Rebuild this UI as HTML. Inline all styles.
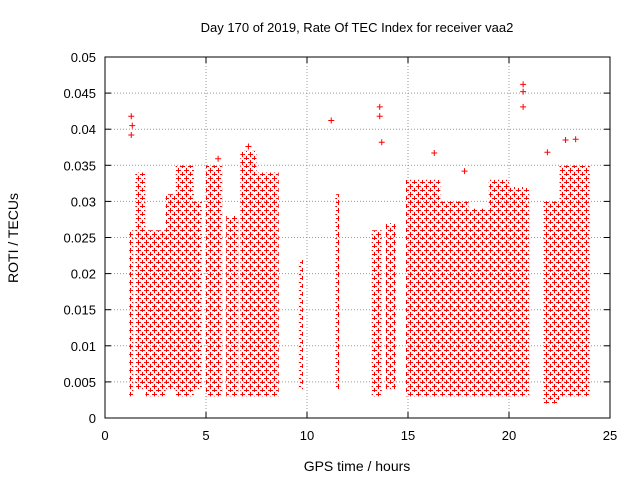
<!DOCTYPE html>
<html><head><meta charset="utf-8"><style>
body{margin:0;background:#fff;}
svg{display:block;font-family:"Liberation Sans",sans-serif;}
</style></head><body>
<svg id="chart" width="640" height="480">
<defs>
<pattern id="plus" width="8" height="8" patternUnits="userSpaceOnUse">
<path d="M0 2.5H5M2.5 0V5M4 6.5H9M6.5 4V9M-4 6.5H1M0 6.5H1" stroke="#f00" stroke-width="1"/>
</pattern>
</defs>
<text x="357" y="32" text-anchor="middle" font-size="13">Day 170 of 2019, Rate Of TEC Index for receiver vaa2</text>
<g id="grid"></g><g id="marks"></g><g id="axes"></g>
<text x="357" y="471" text-anchor="middle" font-size="14">GPS time / hours</text>
<text transform="translate(18,238) rotate(-90)" text-anchor="middle" font-size="14">ROTI / TECUs</text>
</svg>
<script>
const xTicks=[0,5,10,15,20,25];
const yTicks=[0,0.005,0.01,0.015,0.02,0.025,0.03,0.035,0.04,0.045,0.05];
const yLabels=["0","0.005","0.01","0.015","0.02","0.025","0.03","0.035","0.04","0.045","0.05"];
// satellite passes: start hour, end hour, min ROTI, max ROTI
const passStart=[1.2,1.5,2.0,3.0,3.5,4.4,5.0,6.0,6.7,7.5,9.6,11.4,13.2,13.9,14.9,16.6,18.0,19.0,20.0,21.7,22.5];
const passEnd  =[1.4,2.0,3.0,3.5,4.4,4.8,5.8,6.6,7.5,8.6,9.8,11.6,13.7,14.4,16.6,18.0,19.0,20.0,21.0,22.5,24.0];
const passMin  =[0.003,0.004,0.003,0.004,0.003,0.004,0.003,0.003,0.003,0.003,0.004,0.004,0.003,0.004,0.003,0.003,0.003,0.003,0.003,0.002,0.003];
const passMax  =[0.026,0.034,0.026,0.031,0.035,0.030,0.035,0.028,0.037,0.034,0.022,0.031,0.026,0.027,0.033,0.030,0.029,0.033,0.032,0.030,0.035];
// isolated outliers
const outX=[1.3,1.35,1.3,11.2,13.6,13.6,13.7,20.7,20.7,20.7,22.8,23.3,16.3,17.8,21.9,7.1,5.6];
const outY=[0.0418,0.0405,0.0392,0.0412,0.0431,0.0418,0.0382,0.0462,0.0452,0.0431,0.0385,0.0386,0.0367,0.0342,0.0368,0.0376,0.0359];
const X0=105,X1=610,Y0=418,Y1=57;
const sx=v=>X0+(X1-X0)*v/25, sy=v=>Y0-(Y0-Y1)*v/0.05;
const NS="http://www.w3.org/2000/svg";
const g=document.getElementById('grid'),m=document.getElementById('marks'),a=document.getElementById('axes');
function el(t,at,p){const e=document.createElementNS(NS,t);for(const k in at)e.setAttribute(k,at[k]);p.appendChild(e);return e;}
xTicks.forEach(t=>{
 if(t>0&&t<25){const l=el('line',{x1:sx(t),x2:sx(t),y1:Y0,y2:Y1,stroke:'#999','stroke-dasharray':'1,2'},g);
 
 }
 const tx=el('text',{x:sx(t),y:Y0+22,'text-anchor':'middle','font-size':13},a);tx.textContent=t;
 
 
 el('line',{x1:sx(t),x2:sx(t),y1:Y0,y2:Y0-6,stroke:'#000'},a);
 el('line',{x1:sx(t),x2:sx(t),y1:Y1,y2:Y1+6,stroke:'#000'},a);
});
yTicks.forEach((t,i)=>{
 if(i>0&&i<yTicks.length-1){const l=el('line',{x1:X0,x2:X1,y1:sy(t),y2:sy(t),stroke:'#999','stroke-dasharray':'1,2'},g);
 
 }
 const tx=el('text',{x:X0-9,y:sy(t)+5,'text-anchor':'end','font-size':13},a);tx.textContent=yLabels[i];
 
 
 el('line',{x1:X0,x2:X0+6,y1:sy(t),y2:sy(t),stroke:'#000'},a);
 el('line',{x1:X1,x2:X1-6,y1:sy(t),y2:sy(t),stroke:'#000'},a);
});
const fr=el('rect',{x:X0,y:Y1,width:X1-X0,height:Y0-Y1,fill:'none',stroke:'#000'},a);


passStart.forEach((s,i)=>{
 const r=el('rect',{x:sx(s),y:sy(passMax[i]),width:sx(passEnd[i])-sx(s),height:sy(passMin[i])-sy(passMax[i]),fill:'url(#plus)'},m);
 
 
});
outX.forEach((x,i)=>{
 const p=el('path',{d:`M${sx(x)-3} ${sy(outY[i])}h6M${sx(x)} ${sy(outY[i])-3}v6`,stroke:'#f00'},m);
 
 
});
</script>
</body></html>
